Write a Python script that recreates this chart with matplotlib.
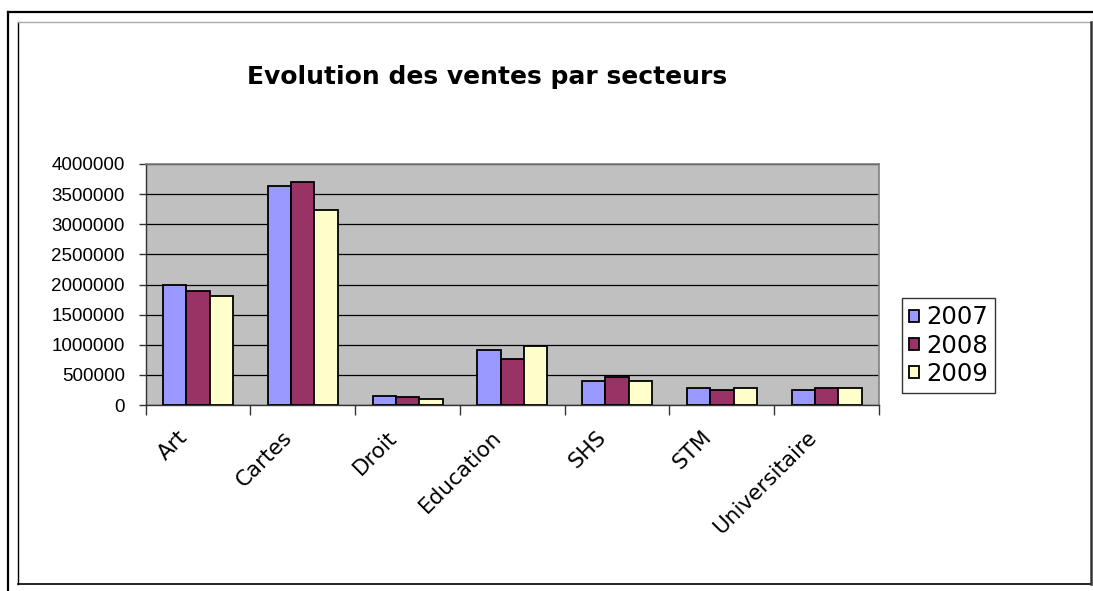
import matplotlib.pyplot as plt
import numpy as np
from matplotlib.lines import Line2D

secteurs = ["Art", "Cartes", "Droit", "Education", "SHS", "STM", "Universitaire"]
annees = ["2007", "2008", "2009"]
ventes_2007 = [1990000, 3635000, 155000, 918000, 404000, 282000, 249000]
ventes_2008 = [1900000, 3700000, 127000, 769000, 459000, 249000, 282000]
ventes_2009 = [1810000, 3240000, 94000, 979000, 404000, 282000, 282000]
couleurs = ["#9999FF", "#993366", "#FFFFCC"]
yticks = [0, 500000, 1000000, 1500000, 2000000, 2500000, 3000000, 3500000, 4000000]

W, H = 1093, 591
fig = plt.figure(figsize=(W / 100, H / 100), dpi=100)

# cadres autour du graphique
fig.add_artist(Line2D([8 / W, 8 / W], [0, 1 - 12 / H], color="black", lw=1.6))
fig.add_artist(Line2D([8 / W, 1], [1 - 12 / H, 1 - 12 / H], color="black", lw=1.6))
fig.add_artist(Line2D([18 / W, 18 / W], [1 - 584 / H, 1 - 22 / H], color="black", lw=1.0))
fig.add_artist(Line2D([18 / W, 1091 / W], [1 - 584 / H, 1 - 584 / H], color="black", lw=1.2))
fig.add_artist(Line2D([18 / W, 1091 / W], [1 - 22 / H, 1 - 22 / H], color="#AAAAAA", lw=1.0))
fig.add_artist(Line2D([1091 / W, 1091 / W], [1 - 584 / H, 1 - 22 / H], color="#333333", lw=1.8))

ax = fig.add_axes([145.7 / W, 1 - 405 / H, (879 - 145.7) / W, (405 - 164) / H])
ax.set_facecolor("#C0C0C0")

x = np.arange(len(secteurs))
w = 1 / 4.5
for i, (vals, c, lab) in enumerate(zip([ventes_2007, ventes_2008, ventes_2009], couleurs, annees)):
    ax.bar(x + (i - 1) * w, vals, width=w, color=c, edgecolor="black", linewidth=1.3, label=lab, zorder=3)

ax.set_xlim(-0.5, len(secteurs) - 0.5)
ax.set_ylim(0, 4000000)
ax.set_yticks(yticks)
ax.set_yticklabels([str(v) for v in yticks], fontsize=13.5, family="Liberation Sans")
ax.yaxis.grid(True, color="black", linewidth=0.9, zorder=1)
ax.set_axisbelow(True)

# graduations entre les groupes, libellés (un peu à gauche du centre)
ax.set_xticks(np.arange(-0.5, len(secteurs)), minor=False)
ax.set_xticklabels([])
ax.set_xticks(x - 0.13, minor=True)
ax.set_xticklabels(secteurs, minor=True, rotation=45, ha="right", va="center",
                   rotation_mode="anchor", fontsize=15.5, family="DejaVu Sans")
ax.tick_params(axis="x", which="minor", length=0, pad=21)
ax.tick_params(axis="x", which="major", length=7, width=1, color="#333333")
ax.tick_params(axis="y", length=5, width=1, color="#333333", pad=10)

for s in ["top", "right"]:
    ax.spines[s].set_color("#808080")
    ax.spines[s].set_linewidth(1.2)
for s in ["left", "bottom"]:
    ax.spines[s].set_color("#333333")
    ax.spines[s].set_linewidth(1)

leg = fig.legend(loc="upper left", bbox_to_anchor=(902 / W, 1 - 298 / H),
                 prop={"family": "DejaVu Sans", "size": 17.5}, frameon=True, fancybox=False,
                 edgecolor="black", handlelength=0.38, handleheight=0.38, handletextpad=0.3,
                 borderpad=0.3, labelspacing=0.18, borderaxespad=0)
leg.get_frame().set_linewidth(1)

fig.text(487 / W, 1 - 77 / H, "Evolution des ventes par secteurs", fontsize=18,
         fontweight="bold", family="DejaVu Sans", ha="center", va="center")

fig.savefig("out.png", dpi=100)
